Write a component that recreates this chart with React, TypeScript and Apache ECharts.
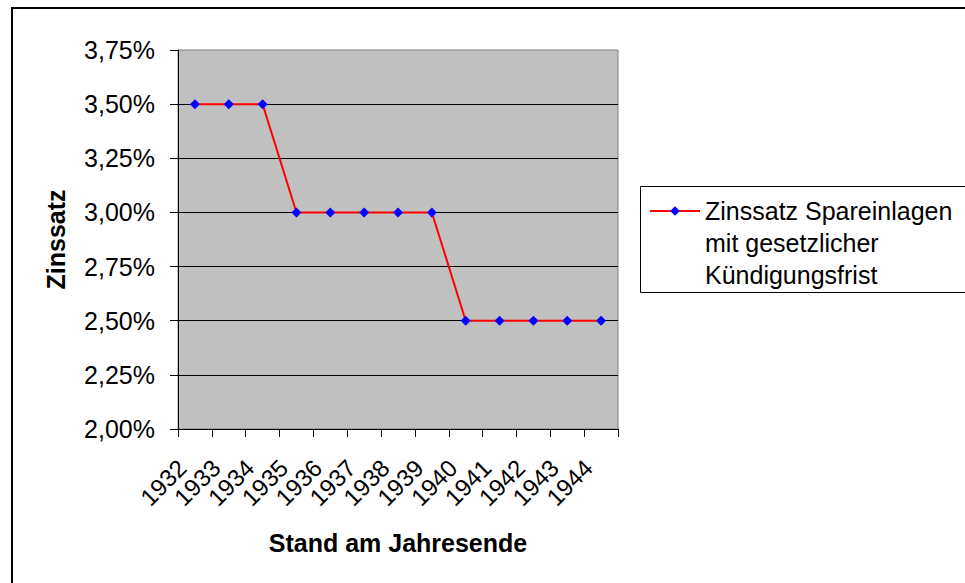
import React, { useEffect, useRef } from "react";
import * as echarts from "echarts";

const years = ["1932", "1933", "1934", "1935", "1936", "1937", "1938", "1939", "1940", "1941", "1942", "1943", "1944"];
const rates = [3.5, 3.5, 3.5, 3.0, 3.0, 3.0, 3.0, 3.0, 2.5, 2.5, 2.5, 2.5, 2.5];
const seriesName = "Zinssatz Spareinlagen\nmit gesetzlicher\nKündigungsfrist";
const yTitle = "Zinssatz";
const xTitle = "Stand am Jahresende";

const FONT = "'Liberation Sans', Arial, sans-serif";

export default function App() {
  const ref = useRef<HTMLDivElement>(null);
  useEffect(() => {
    if (!ref.current) return;
    const chart = echarts.init(ref.current, null, { renderer: "svg" });
    chart.setOption({
      animation: false,
      backgroundColor: "#ffffff",
      textStyle: { fontFamily: FONT, color: "#000" },
      grid: {
        left: 178,
        top: 50,
        right: 347,
        bottom: 154,
        show: true,
        backgroundColor: "#c0c0c0",
        borderColor: "#808080",
        borderWidth: 1,
      },
      legend: {
        show: true,
        left: 649,
        top: 131,
        padding: 0,
        itemWidth: 50,
        itemHeight: 12,
        borderWidth: 0,
        textStyle: { fontFamily: FONT, fontSize: 25, color: "#000", lineHeight: 32 },
        data: [{ name: seriesName }],
        formatter: (n: string) => "\n\n" + n,
      },
      xAxis: {
        type: "category",
        data: years,
        boundaryGap: true,
        name: xTitle,
        nameLocation: "middle",
        nameGap: 101,
        nameTextStyle: { fontFamily: FONT, fontSize: 25, fontWeight: "bold", color: "#000" },
        axisLine: { show: true, lineStyle: { color: "#000", width: 1 } },
        axisTick: { show: true, alignWithLabel: false, length: 8, lineStyle: { color: "#000" } },
        axisLabel: {
          rotate: 45,
          margin: 22,
          padding: [0, 18, 0, 0],
          fontFamily: FONT,
          fontSize: 24,
          color: "#000",
          interval: 0,
        },
        splitLine: { show: false },
      },
      yAxis: {
        type: "value",
        min: 2.0,
        max: 3.75,
        interval: 0.25,
        name: yTitle,
        nameLocation: "middle",
        nameGap: 110,
        nameTextStyle: { fontFamily: FONT, fontSize: 25, fontWeight: "bold", color: "#000" },
        axisLine: { show: true, lineStyle: { color: "#000", width: 1 } },
        axisTick: { show: true, length: 8, lineStyle: { color: "#000" } },
        axisLabel: {
          margin: 23,
          fontFamily: FONT,
          fontSize: 25,
          color: "#000",
          formatter: (v: number) => v.toFixed(2).replace(".", ",") + "%",
        },
        splitLine: { show: true, showMaxLine: false, lineStyle: { color: "#000", width: 1 } },
      },
      series: [
        {
          name: seriesName,
          type: "line",
          data: rates,
          symbol: "diamond",
          symbolSize: 10,
          itemStyle: { color: "#0000ff" },
          lineStyle: { color: "#ff0000", width: 2 },
          z: 3,
        },
      ],
      graphic: [
        {
          type: "rect",
          shape: { x: 12, y: 8, width: 1000, height: 1000 },
          style: { fill: "none", stroke: "#000", lineWidth: 2 },
          silent: true,
          z: 0,
        },
        {
          type: "rect",
          shape: { x: 640.5, y: 186.5, width: 400, height: 106 },
          style: { fill: "none", stroke: "#000", lineWidth: 1 },
          silent: true,
        },
      ],
    });
    return () => chart.dispose();
  }, []);
  return (
    <div
      ref={ref}
      style={{ position: "absolute", left: 0, top: 0, width: 965, height: 583 }}
    />
  );
}
